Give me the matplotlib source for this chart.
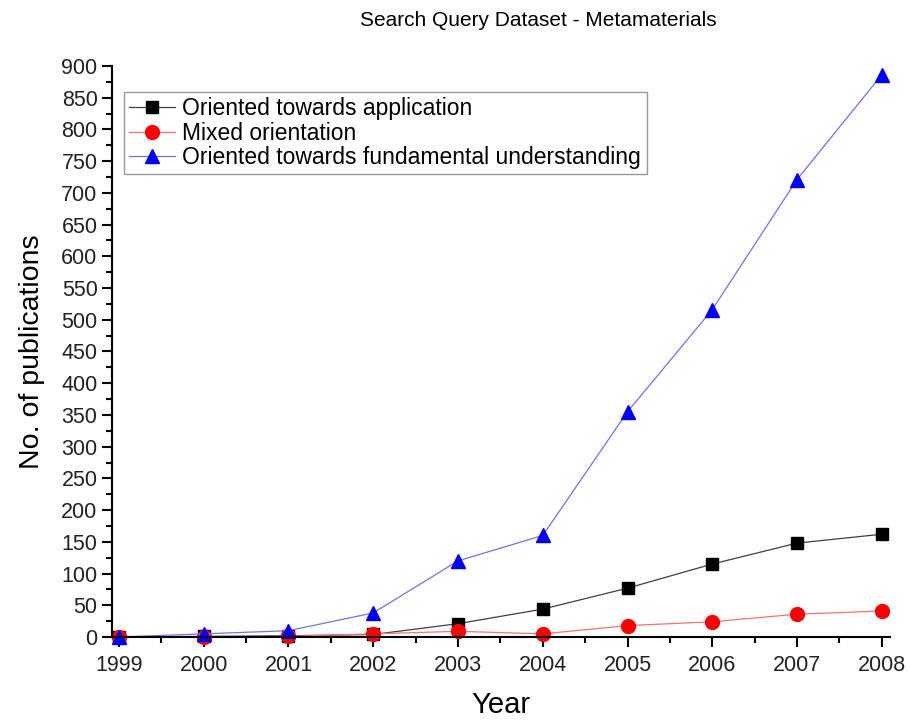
import matplotlib.pyplot as plt
from matplotlib.ticker import MultipleLocator

plt.rcParams['font.family'] = ['Liberation Sans', 'DejaVu Sans']

years = [1999, 2000, 2001, 2002, 2003, 2004, 2005, 2006, 2007, 2008]
application = [0, 1, 2, 4, 21, 44, 77, 115, 148, 162]
mixed = [0, 0, 1, 5, 9, 5, 18, 24, 36, 41]
fundamental = [0, 5, 10, 38, 120, 160, 355, 516, 721, 886]

fig = plt.figure(figsize=(9.08, 7.22), dpi=100)
ax = fig.add_axes([0.1235, 0.1177, 0.857, 0.791])

ax.plot(years, application, color='#404040', lw=0.9, marker='s', ms=8,
        mfc='black', mec='black', label='Oriented towards application', clip_on=False)
ax.plot(years, mixed, color='#ff7070', lw=0.9, marker='o', ms=10,
        mfc='red', mec='red', label='Mixed orientation', clip_on=False)
ax.plot(years, fundamental, color='#7070ff', lw=0.9, marker='^', ms=10,
        mfc='blue', mec='blue', label='Oriented towards fundamental understanding', clip_on=False)

ax.set_xlim(1998.92, 2008.1)
ax.set_ylim(0, 900)
ax.spines['top'].set_visible(False)
ax.spines['right'].set_visible(False)
ax.spines['left'].set_linewidth(1.5)
ax.spines['bottom'].set_linewidth(1.5)

ax.xaxis.set_major_locator(MultipleLocator(1))
ax.xaxis.set_minor_locator(MultipleLocator(0.5))
ax.yaxis.set_major_locator(MultipleLocator(50))
ax.yaxis.set_minor_locator(MultipleLocator(25))
ax.tick_params(which='major', direction='out', length=7, width=1.5,
               labelsize=15.5, labelcolor='#222222')
ax.tick_params(axis='x', which='major', pad=6)
ax.tick_params(which='minor', direction='out', length=4, width=1.5)

ax.set_xlabel('Year', fontsize=21, labelpad=11)
ax.set_ylabel('No. of publications', fontsize=20.5, labelpad=12)
fig.text(0.593, 0.972, 'Search Query Dataset - Metamaterials', fontsize=15,
         ha='center', va='center')

leg = ax.legend(loc='upper left', bbox_to_anchor=(0.0, 0.975), fontsize=16.5,
                frameon=True, fancybox=False, edgecolor='#808080',
                handlelength=2.0, handletextpad=0.3, borderpad=0.25,
                labelspacing=0.05, borderaxespad=0.5)
leg.get_frame().set_linewidth(1.0)

fig.savefig('out.png', dpi=100)
